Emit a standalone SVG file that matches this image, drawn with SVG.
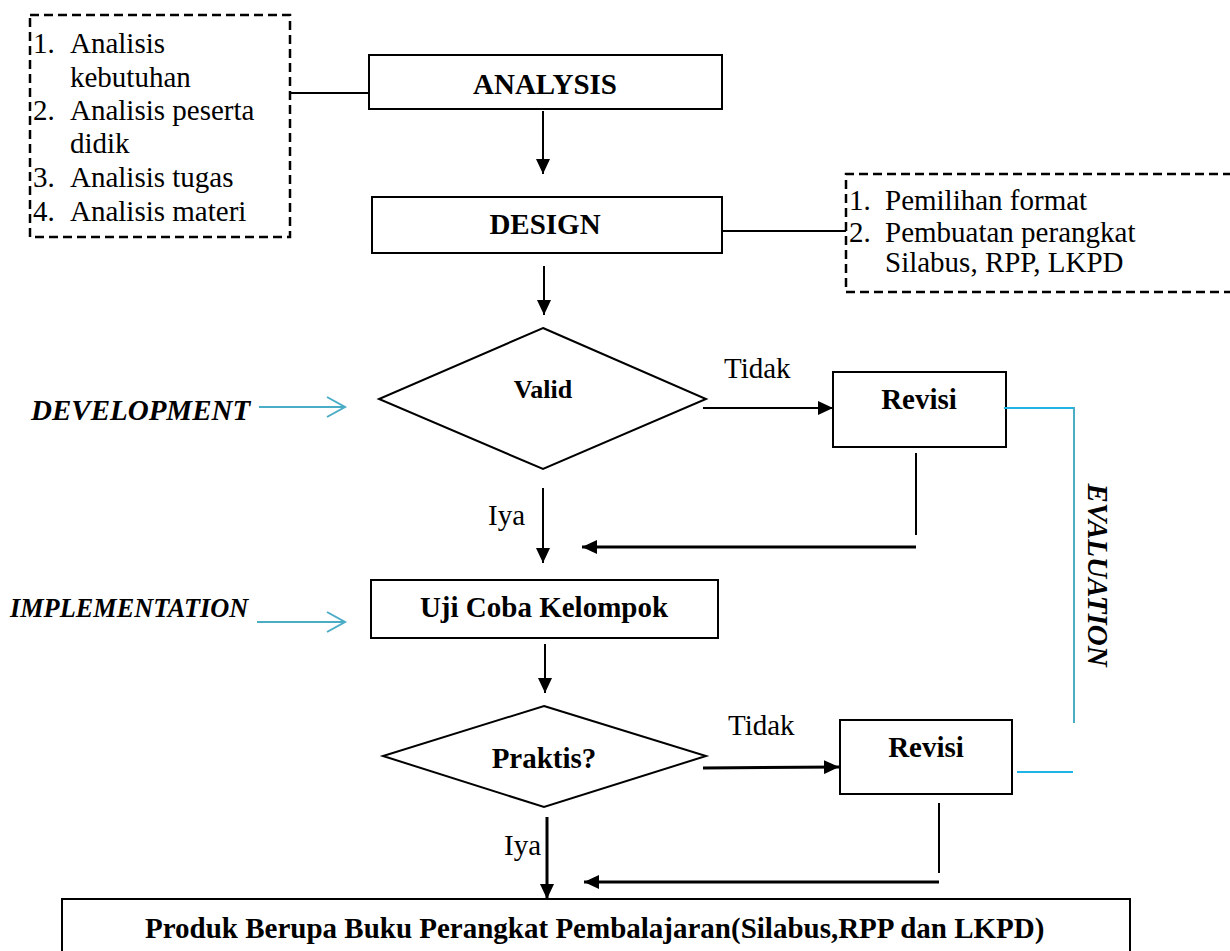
<svg xmlns="http://www.w3.org/2000/svg" width="1230" height="951" viewBox="0 0 1230 951" font-family="Liberation Serif" font-size="29">
<defs>
<marker id="ah" markerUnits="userSpaceOnUse" markerWidth="16" markerHeight="14" refX="15" refY="7" orient="auto">
<path d="M0,0 L15,7 L0,14 Z" fill="#000"/>
</marker>
</defs>

<g id="analysis-notes">
<rect x="30" y="15" width="260" height="222" fill="none" stroke="#000" stroke-width="2.5" stroke-dasharray="9 5"/>
<text x="33" y="53">1.</text>
<text x="70" y="53">Analisis</text>
<text x="70" y="87">kebutuhan</text>
<text x="33" y="120">2.</text>
<text x="70" y="120">Analisis peserta</text>
<text x="70" y="153">didik</text>
<text x="33" y="187">3.</text>
<text x="70" y="187">Analisis tugas</text>
<text x="33" y="221">4.</text>
<text x="70" y="221">Analisis materi</text>
</g>

<g id="analysis" font-weight="bold" text-anchor="middle">
<rect x="369" y="55" width="353" height="54" fill="#fff" stroke="#000" stroke-width="2"/>
<text x="545" y="94">ANALYSIS</text>
</g>

<g id="design" font-weight="bold" text-anchor="middle">
<rect x="372" y="197" width="350" height="56" fill="#fff" stroke="#000" stroke-width="2"/>
<text x="545" y="234">DESIGN</text>
</g>

<g id="design-notes">
<path d="M1232,174 H846 V292 H1232" fill="none" stroke="#000" stroke-width="2.5" stroke-dasharray="9 5"/>
<text x="849" y="210">1.</text>
<text x="885" y="210">Pemilihan format</text>
<text x="849" y="242">2.</text>
<text x="885" y="242">Pembuatan perangkat</text>
<text x="885" y="272">Silabus, RPP, LKPD</text>
</g>

<g id="valid" font-weight="bold" text-anchor="middle">
<polygon points="543,328 706,399 543,469 379,399" fill="#fff" stroke="#000" stroke-width="2"/>
<text x="543" y="398" font-size="26">Valid</text>
</g>

<g id="revisi1" font-weight="bold" text-anchor="middle">
<rect x="833" y="372" width="173" height="75" fill="#fff" stroke="#000" stroke-width="2"/>
<text x="919" y="409">Revisi</text>
</g>

<g id="uji-coba" font-weight="bold" text-anchor="middle">
<rect x="371" y="580" width="347" height="58" fill="#fff" stroke="#000" stroke-width="2"/>
<text x="544" y="617">Uji Coba Kelompok</text>
</g>

<g id="praktis" font-weight="bold" text-anchor="middle">
<polygon points="544,706 706,756 544,807 383,756" fill="#fff" stroke="#000" stroke-width="2"/>
<text x="544" y="768">Praktis?</text>
</g>

<g id="revisi2" font-weight="bold" text-anchor="middle">
<rect x="840" y="720" width="172" height="74" fill="#fff" stroke="#000" stroke-width="2"/>
<text x="926" y="757">Revisi</text>
</g>

<g id="produk" font-weight="bold">
<path d="M62,953 V899 H1130 V953" fill="none" stroke="#000" stroke-width="2"/>
<text x="145" y="938">Produk Berupa Buku Perangkat Pembalajaran(Silabus,RPP dan LKPD)</text>
</g>

<g id="phase-labels" font-weight="bold" font-style="italic">
<text x="31" y="420">DEVELOPMENT</text>
<text x="10" y="617" font-size="26.3">IMPLEMENTATION</text>
<text x="1088" y="575" text-anchor="middle" transform="rotate(90 1088 575)">EVALUATION</text>
</g>

<g id="connectors" fill="none" stroke="#000" stroke-width="2">
<line x1="290" y1="93" x2="369" y2="93"/>
<line x1="543" y1="111" x2="543" y2="174" marker-end="url(#ah)"/>
<line x1="722" y1="231" x2="846" y2="231"/>
<line x1="544" y1="266" x2="544" y2="315" marker-end="url(#ah)"/>
<line x1="703" y1="408" x2="833" y2="408" marker-end="url(#ah)"/>
<line x1="916" y1="453" x2="916" y2="535"/>
<line x1="916" y1="547" x2="582" y2="547" stroke-width="3" marker-end="url(#ah)"/>
<line x1="543" y1="488" x2="543" y2="563" marker-end="url(#ah)"/>
<line x1="545" y1="644" x2="545" y2="693" marker-end="url(#ah)"/>
<line x1="703" y1="768" x2="839" y2="767" stroke-width="3" marker-end="url(#ah)"/>
<line x1="939" y1="803" x2="939" y2="873"/>
<line x1="939" y1="882" x2="584" y2="882" stroke-width="3" marker-end="url(#ah)"/>
<line x1="547" y1="817" x2="547" y2="899" stroke-width="3" marker-end="url(#ah)"/>
<path d="M1004,408 H1074" stroke="#1fb3e6"/>
<path d="M1074,407 V723" stroke="#4bacc6"/>
<path d="M1017,772 H1073" stroke="#1fb3e6"/>
<path d="M259,407 H344 M327,397 L345,407 L327,417" stroke="#4bacc6"/>
<path d="M257,622 H344 M327,612 L345,622 L327,632" stroke="#4bacc6"/>
<g fill="#000" stroke="none">
<text x="724" y="378">Tidak</text>
<text x="488" y="525">Iya</text>
<text x="728" y="735">Tidak</text>
<text x="504" y="855">Iya</text>
</g>
</g>
</svg>
